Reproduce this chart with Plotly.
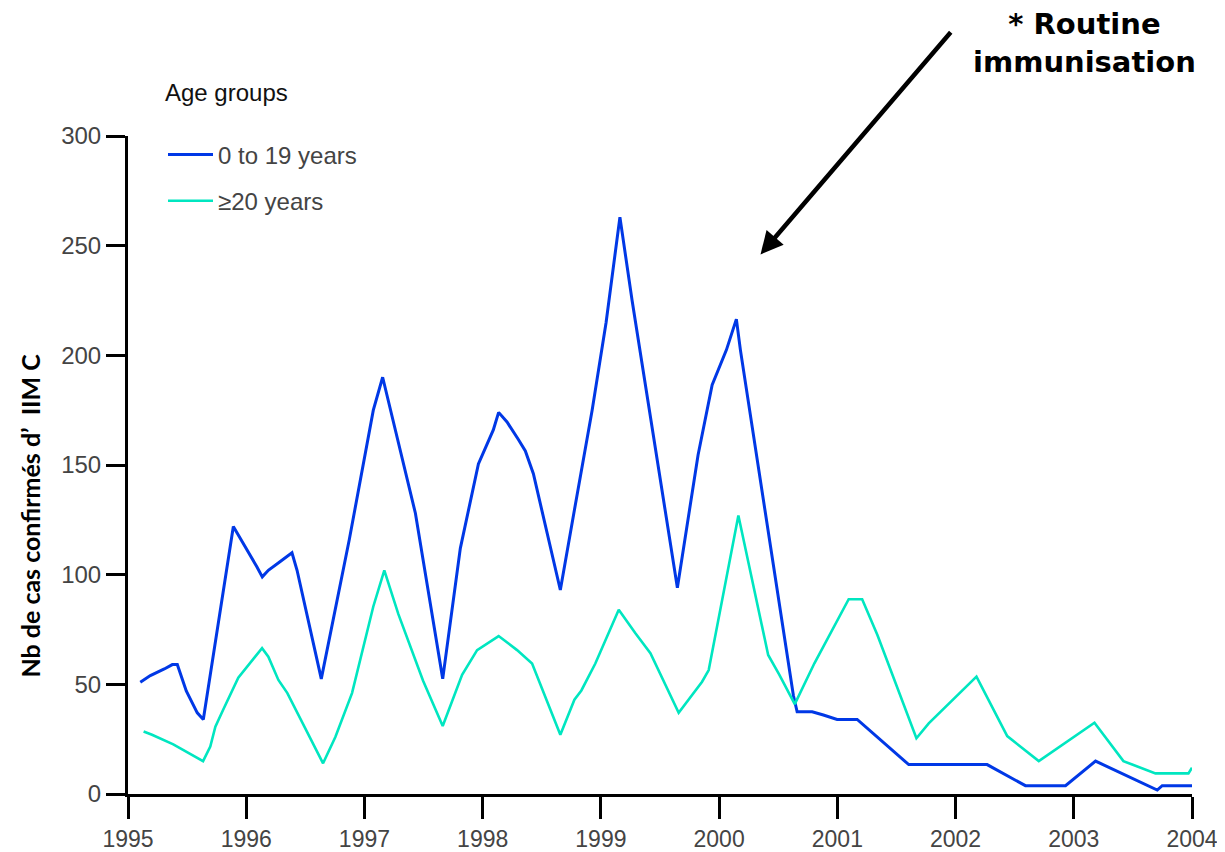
import plotly.graph_objects as go

# ---- data (decimal year, confirmed cases) ----
young_x = [1995.104, 1995.189, 1995.307, 1995.375, 1995.417, 1995.493, 1995.586, 1995.637,
           1995.891, 1995.975, 1996.091, 1996.136, 1996.187, 1996.288, 1996.387, 1996.430,
           1996.635, 1996.872, 1997.075, 1997.154, 1997.261, 1997.431, 1997.662, 1997.811,
           1997.964, 1998.090, 1998.135, 1998.206, 1998.302, 1998.361, 1998.429, 1998.657,
           1998.776, 1998.926, 1999.044, 1999.161, 1999.264, 1999.647, 1999.822, 1999.941,
           2000.062, 2000.146, 2000.180, 2000.628, 2000.660, 2000.787, 2000.882, 2000.998,
           2001.168, 2001.562, 2001.604, 2002.267, 2002.591, 2002.930, 2003.184, 2003.706,
           2003.748, 2004.000]
young_y = [51, 54, 57, 59, 59, 47, 37, 34,
           122, 114.5, 103.5, 99, 102, 106, 110, 102,
           52.5, 116, 175, 190, 166, 128, 52.5, 112,
           150.5, 166, 174, 169.6, 161.6, 156.4, 146, 93,
           129.5, 175, 215, 263, 225, 94, 154.6, 186.5,
           202.5, 216.5, 202.5, 45, 37.5, 37.5, 36, 34,
           34, 15, 13.4, 13.4, 3.8, 3.8, 15, 1.8,
           3.8, 3.8]

adult_x = [1995.132, 1995.203, 1995.383, 1995.635, 1995.696, 1995.739, 1995.804, 1995.933,
           1996.134, 1996.187, 1996.272, 1996.348, 1996.650, 1996.754, 1996.895, 1997.075,
           1997.168, 1997.287, 1997.496, 1997.662, 1997.826, 1997.953, 1998.135, 1998.291,
           1998.418, 1998.657, 1998.776, 1998.835, 1998.953, 1999.151, 1999.292, 1999.419,
           1999.658, 1999.856, 1999.912, 2000.163, 2000.415, 2000.510, 2000.640, 2000.806,
           2001.096, 2001.210, 2001.339, 2001.669, 2001.773, 2002.177, 2002.437, 2002.704,
           2003.175, 2003.420, 2003.691, 2003.970, 2004.000]
adult_y = [28.5, 27, 22.6, 15, 21.6, 30.7, 38.3, 53,
           66.5, 62.6, 52, 46, 14, 26, 46, 85.5,
           102, 82, 51.6, 31, 54.3, 65.6, 72, 65.6,
           59.5, 27, 43, 47.2, 59.5, 84, 73.3, 64.2,
           37, 51.2, 56.5, 127, 63.4, 54.3, 41, 59.6,
           88.8, 88.8, 72.5, 25.4, 32.2, 53.5, 26.4, 15,
           32.5, 15, 9.4, 9.4, 12]

year_ticks = [1995, 1996, 1997, 1998, 1999, 2000, 2001, 2002, 2003, 2004]
year_labels = [str(y) for y in year_ticks]
case_ticks = [0, 50, 100, 150, 200, 250, 300]

series_names = ["0 to 19 years", "\u226520 years"]
legend_title = "Age groups"
y_title = "Nb de cas confirm\u00e9s d\u2019\u00a0\u00a0IIM C"
note_text = "* Routine<br>immunisation"
arrow_tip = (2000.35, 246)
arrow_tail = (2001.97, 348)

BLUE = "#0038E6"
TEAL = "#00E6C0"
TICKFONT = dict(family="Liberation Sans, Arial, sans-serif", size=24, color="#444444")
XTICKFONT = dict(family="Liberation Sans, Arial, sans-serif", size=23, color="#444444")

# the page body adds an 8px offset, so left/top margins are 8px smaller
W, H = 1217, 852

fig = go.Figure()
fig.add_trace(go.Scatter(x=young_x, y=young_y, mode="lines", name=series_names[0],
                         line=dict(color=BLUE, width=3), legendgroup="a"))
fig.add_trace(go.Scatter(x=adult_x, y=adult_y, mode="lines", name=series_names[1],
                         line=dict(color=TEAL, width=2.6), legendgroup="b"))

fig.update_layout(
    width=W, height=H, autosize=False,
    margin=dict(l=120, r=33, t=128, b=66, autoexpand=False),
    paper_bgcolor="white", plot_bgcolor="white",
    showlegend=True,
    legend=dict(
        title=dict(text=legend_title + "<br> ", font=dict(family="Liberation Sans, Arial, sans-serif", size=24, color="#111")),
        font=dict(family="Liberation Sans, Arial, sans-serif", size=24, color="#444444"),
        xref="container", yref="container",
        x=155 / W, y=1 - 62 / H, xanchor="left", yanchor="top",
        bgcolor="rgba(0,0,0,0)", tracegroupgap=12, itemwidth=45,
    ),
    xaxis=dict(range=[1995, 2004], tickvals=year_ticks, ticktext=year_labels, automargin=False,
               showgrid=False, zeroline=False, showline=True, linecolor="black", linewidth=3,
               ticks="outside", ticklen=22, tickwidth=3, tickcolor="black",
               tickfont=XTICKFONT),
    yaxis=dict(range=[0, 300], tickvals=case_ticks, automargin=False,
               showgrid=False, zeroline=False, showline=True, linecolor="black", linewidth=3,
               ticks="outside", ticklen=19, tickwidth=3, tickcolor="black",
               tickfont=TICKFONT),
)

fig.add_annotation(text="<b>" + y_title + "</b>", textangle=-90, xref="paper", yref="paper",
                   x=-0.0925, y=0.4225, xanchor="center", yanchor="middle", showarrow=False,
                   font=dict(family="Lato, sans-serif", size=25, color="black"))

fig.add_annotation(text="<b>" + note_text + "</b>", xref="paper", yref="paper",
                   x=0.8985, y=1.1413, xanchor="center", yanchor="middle", showarrow=False,
                   font=dict(family="DejaVu Sans, sans-serif", size=29, color="black"))

fig.add_annotation(text="", x=arrow_tip[0], y=arrow_tip[1], ax=arrow_tail[0], ay=arrow_tail[1],
                   xref="x", yref="y", axref="x", ayref="y", showarrow=True,
                   arrowhead=2, arrowsize=1, arrowwidth=4.5, arrowcolor="black")

fig.write_html("out.html")
